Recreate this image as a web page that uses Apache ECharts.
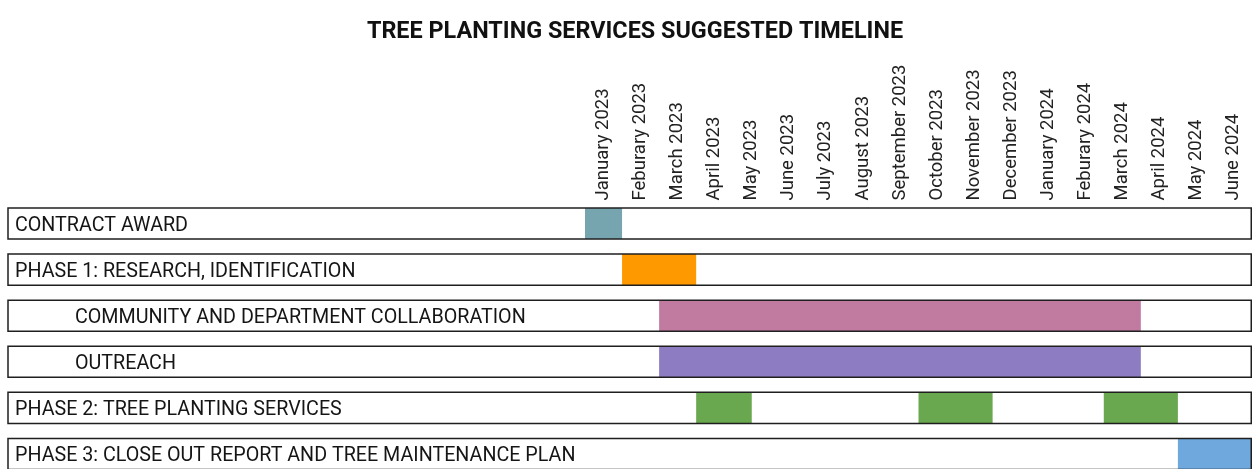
<!DOCTYPE html>
<html>
<head>
<meta charset="utf-8">
<script src="https://cdn.jsdelivr.net/npm/echarts@6/dist/echarts.min.js"></script>
<style>
  html, body { margin: 0; padding: 0; background: #ffffff; overflow: hidden; }
  #chart { width: 1253px; height: 477px; }
</style>
</head>
<body>
<div id="chart"></div>
<script>
// ---- data ----
const chartTitle = 'TREE PLANTING SERVICES SUGGESTED TIMELINE';
const months = [
  'January 2023', 'Feburary 2023', 'March 2023', 'April 2023', 'May 2023', 'June 2023',
  'July 2023', 'August 2023', 'September 2023', 'October 2023', 'November 2023', 'December 2023',
  'January 2024', 'Feburary 2024', 'March 2024', 'April 2024', 'May 2024', 'June 2024'
];
const rows = [
  'CONTRACT AWARD',
  'PHASE 1: RESEARCH, IDENTIFICATION',
  'COMMUNITY AND DEPARTMENT COLLABORATION',
  'OUTREACH',
  'PHASE 2: TREE PLANTING SERVICES',
  'PHASE 3: CLOSE OUT REPORT AND TREE MAINTENANCE PLAN'
];
const rowLevel = [0, 0, 1, 1, 0, 0];           // 1 = sub-task of phase 1
// tasks: row index, start month index, end month index (exclusive)
const taskRow   = [0, 1, 2, 3, 4,   4,  4,  5];
const taskStart = [0, 1, 2, 2, 3,   9, 14, 16];
const taskEnd   = [1, 3, 15, 15, 4.5, 11, 16, 18];

// ---- styles ----
const rowColors = ['#76a5af', '#ff9900', '#c27ba0', '#8e7cc3', '#6aa84f', '#6fa8dc'];
const boxRatio = 0.674;
const labelArea = 577;

const chart = echarts.init(document.getElementById('chart'));

function boxGeom(api, params, rowIdx) {
  const cs = params.coordSys;
  const y = api.coord([0, rowIdx])[1];
  const h = api.size([0, 1])[1] * boxRatio;
  return { x: cs.x - labelArea, y: y - h / 2, w: cs.width + labelArea, h: h };
}

const option = {
  backgroundColor: '#ffffff',
  animation: false,
  title: {
    text: chartTitle,
    left: 630,
    top: 16,
    textAlign: 'center',
    textStyle: { fontFamily: 'Roboto', fontWeight: 'bold', fontSize: 23.4, color: '#111111' }
  },
  grid: { left: 585, right: 1, top: 200.5, bottom: 0 },
  xAxis: [
    {
      type: 'category',
      position: 'top',
      data: months,
      boundaryGap: true,
      axisLine: { show: false },
      axisTick: { show: false },
      splitLine: { show: false },
      axisLabel: {
        interval: 0,
        rotate: -90,
        margin: 0,
        fontFamily: 'Roboto',
        fontSize: 18.5,
        color: '#222222'
      }
    },
    { type: 'value', min: 0, max: months.length, show: false }
  ],
  yAxis: {
    type: 'category',
    inverse: true,
    z: 10,
    data: rows,
    axisLine: { show: false },
    axisTick: { show: false },
    splitLine: { show: false },
    axisLabel: {
      interval: 0,
      align: 'left',
      margin: 570,
      padding: [5, 0, 0, 0],
      fontFamily: 'Roboto',
      fontSize: 19.7,
      color: '#151515',
      formatter: function (v, i) {
        return rowLevel[i] ? '{sub|' + v + '}' : v;
      },
      rich: {
        sub: { padding: [0, 0, 0, 60], fontFamily: 'Roboto', fontSize: 19.7, color: '#151515' }
      }
    }
  },
  series: [
    {
      type: 'custom',
      xAxisIndex: 1,
      z: 1,
      silent: true,
      data: rows.map((r, i) => [i]),
      renderItem: function (params, api) {
        const g = boxGeom(api, params, api.value(0));
        return { type: 'rect', shape: { x: g.x, y: g.y, width: g.w, height: g.h },
                 style: { fill: '#ffffff' } };
      }
    },
    {
      type: 'custom',
      xAxisIndex: 1,
      z: 2,
      silent: true,
      data: taskRow.map((r, i) => [taskStart[i], taskEnd[i], r]),
      renderItem: function (params, api) {
        const r = api.value(2);
        const g = boxGeom(api, params, r);
        const x0 = api.coord([api.value(0), r])[0];
        const x1 = api.coord([api.value(1), r])[0];
        return { type: 'rect', shape: { x: x0, y: g.y, width: x1 - x0, height: g.h },
                 style: { fill: rowColors[r] } };
      }
    },
    {
      type: 'custom',
      xAxisIndex: 1,
      z: 3,
      silent: true,
      data: rows.map((r, i) => [i]),
      renderItem: function (params, api) {
        const g = boxGeom(api, params, api.value(0));
        return { type: 'rect', shape: { x: g.x, y: g.y, width: g.w - 0.75, height: g.h },
                 style: { fill: 'none', stroke: '#1f1f1f', lineWidth: 1.5 } };
      }
    }
  ]
};
chart.setOption(option);
</script>
</body>
</html>
